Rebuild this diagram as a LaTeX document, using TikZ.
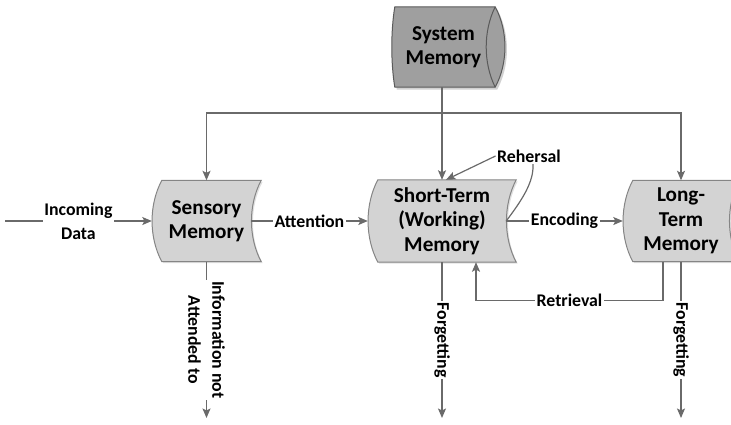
\documentclass[tikz,border=0pt]{standalone}
\usepackage{fontspec}
\setmainfont{Carlito}
\usetikzlibrary{arrows.meta,calc,backgrounds,shadows}
\definecolor{lncol}{HTML}{6A6A6A}
\definecolor{boxfill}{HTML}{D3D3D3}
\definecolor{boxline}{HTML}{858585}
\definecolor{sysfill}{HTML}{9F9F9F}
\definecolor{sysline}{HTML}{5A5A5A}
\newcommand\memshape[1]{%
  \path[boxshape] ([xshift=10pt]#1.north west) -- (#1.north east)
    .. controls ([xshift=-13pt]$(#1.north east)!0.3!(#1.south east)$) and ([xshift=-13pt]$(#1.north east)!0.7!(#1.south east)$) .. (#1.south east)
    -- ([xshift=10pt]#1.south west)
    .. controls ([xshift=-3pt]$(#1.north west)!0.7!(#1.south west)$) and ([xshift=-3pt]$(#1.north west)!0.3!(#1.south west)$) .. ([xshift=10pt]#1.north west) -- cycle;}
\begin{document}
\begin{tikzpicture}[x=1pt,y=-1pt,
  memtext/.style={align=center,font=\fontsize{21.2}{24.5}\selectfont\bfseries,inner sep=0pt},
  lbl/.style={align=center,font=\fontsize{17.8}{24}\selectfont\bfseries,fill=white,inner sep=1.5pt},
  conn/.style={draw=lncol,line width=1.2pt,-{Stealth[length=9.5pt,width=8pt,inset=2pt]}},
  plainline/.style={draw=lncol,line width=1.2pt},
  boxshape/.style={fill=boxfill,draw=boxline,line width=1pt,drop shadow={shadow xshift=1.5pt,shadow yshift=-1.5pt,fill=black,opacity=0.12}},
  sysshape/.style={fill=sysfill,draw=sysline,line width=1pt,drop shadow={shadow xshift=2pt,shadow yshift=-2.5pt,fill=black,opacity=0.18}}]
\useasboundingbox (0,0) rectangle (731,424);
\clip (0,0) rectangle (731,424);

\node[memtext,minimum width=103pt,minimum height=80pt] (sysm) at (443.5,47) {System\\Memory};
\node[memtext,minimum width=109pt,minimum height=81pt] (sm) at (206.5,221) {Sensory\\Memory};
\node[memtext,minimum width=148pt,minimum height=82pt] (st) at (442,221) {Short-Term\\(Working)\\Memory};
\node[memtext,minimum width=116pt,minimum height=81pt] (lt) at (681,221) {Long-\\Term\\Memory};

\begin{pgfonlayer}{background}
\memshape{sm}
\memshape{st}
\memshape{lt}
\path[sysshape] ([xshift=3pt]sysm.north west) -- (sysm.north east)
  .. controls ([xshift=13pt]$(sysm.north east)!0.3!(sysm.south east)$) and ([xshift=13pt]$(sysm.north east)!0.7!(sysm.south east)$) .. (sysm.south east)
  -- ([xshift=3pt]sysm.south west)
  .. controls ([xshift=-1pt]$(sysm.north west)!0.7!(sysm.south west)$) and ([xshift=-1pt]$(sysm.north west)!0.3!(sysm.south west)$) .. ([xshift=3pt]sysm.north west) -- cycle;
\draw[sysline,line width=1pt] (sysm.north east)
  .. controls ([xshift=-12pt]$(sysm.north east)!0.3!(sysm.south east)$) and ([xshift=-12pt]$(sysm.north east)!0.7!(sysm.south east)$) .. (sysm.south east);
\end{pgfonlayer}

% system memory distribution
\draw[conn] (sysm.south -| st.north) -- (st.north);
\coordinate (jn) at (442,113);
\draw[conn] (jn) -| (sm.north);
\draw[conn] (jn) -| (lt.north);

% horizontal flow
\coordinate (inc) at (5,221);
\draw[conn] (inc) -- node[lbl]{Incoming\\Data} (sm.west);
\draw[conn] ([xshift=-10pt]sm.east) -- node[lbl]{Attention} (st.west);
\draw[conn] ([xshift=-10pt]st.east) -- node[lbl]{Encoding} (lt.west);

% rehearsal
\node[lbl,fill=none] (reh) at (529,156) {Rehersal};
\draw[plainline] ([xshift=-10pt]st.east) .. controls (522,200) and (534,182) .. ([xshift=4pt]reh.south);
\draw[conn] (reh.west) -- ([xshift=4pt]st.north);

% retrieval
\draw[conn] ([xshift=-18pt]lt.south) |- node[lbl,pos=0.75]{Retrieval} ([xshift=34pt,yshift=-38pt]st.south) -- ([xshift=34pt]st.south);

% forgetting
\draw[conn] (sm.south) -- node[lbl,rotate=-90]{Information not\\Attended to} (sm.south |- 0,418);
\draw[conn] (st.south) -- node[lbl,rotate=-90]{Forgetting} (st.south |- 0,418);
\draw[conn] (lt.south) -- node[lbl,rotate=-90]{Forgetting} (lt.south |- 0,418);
\end{tikzpicture}
\end{document}
